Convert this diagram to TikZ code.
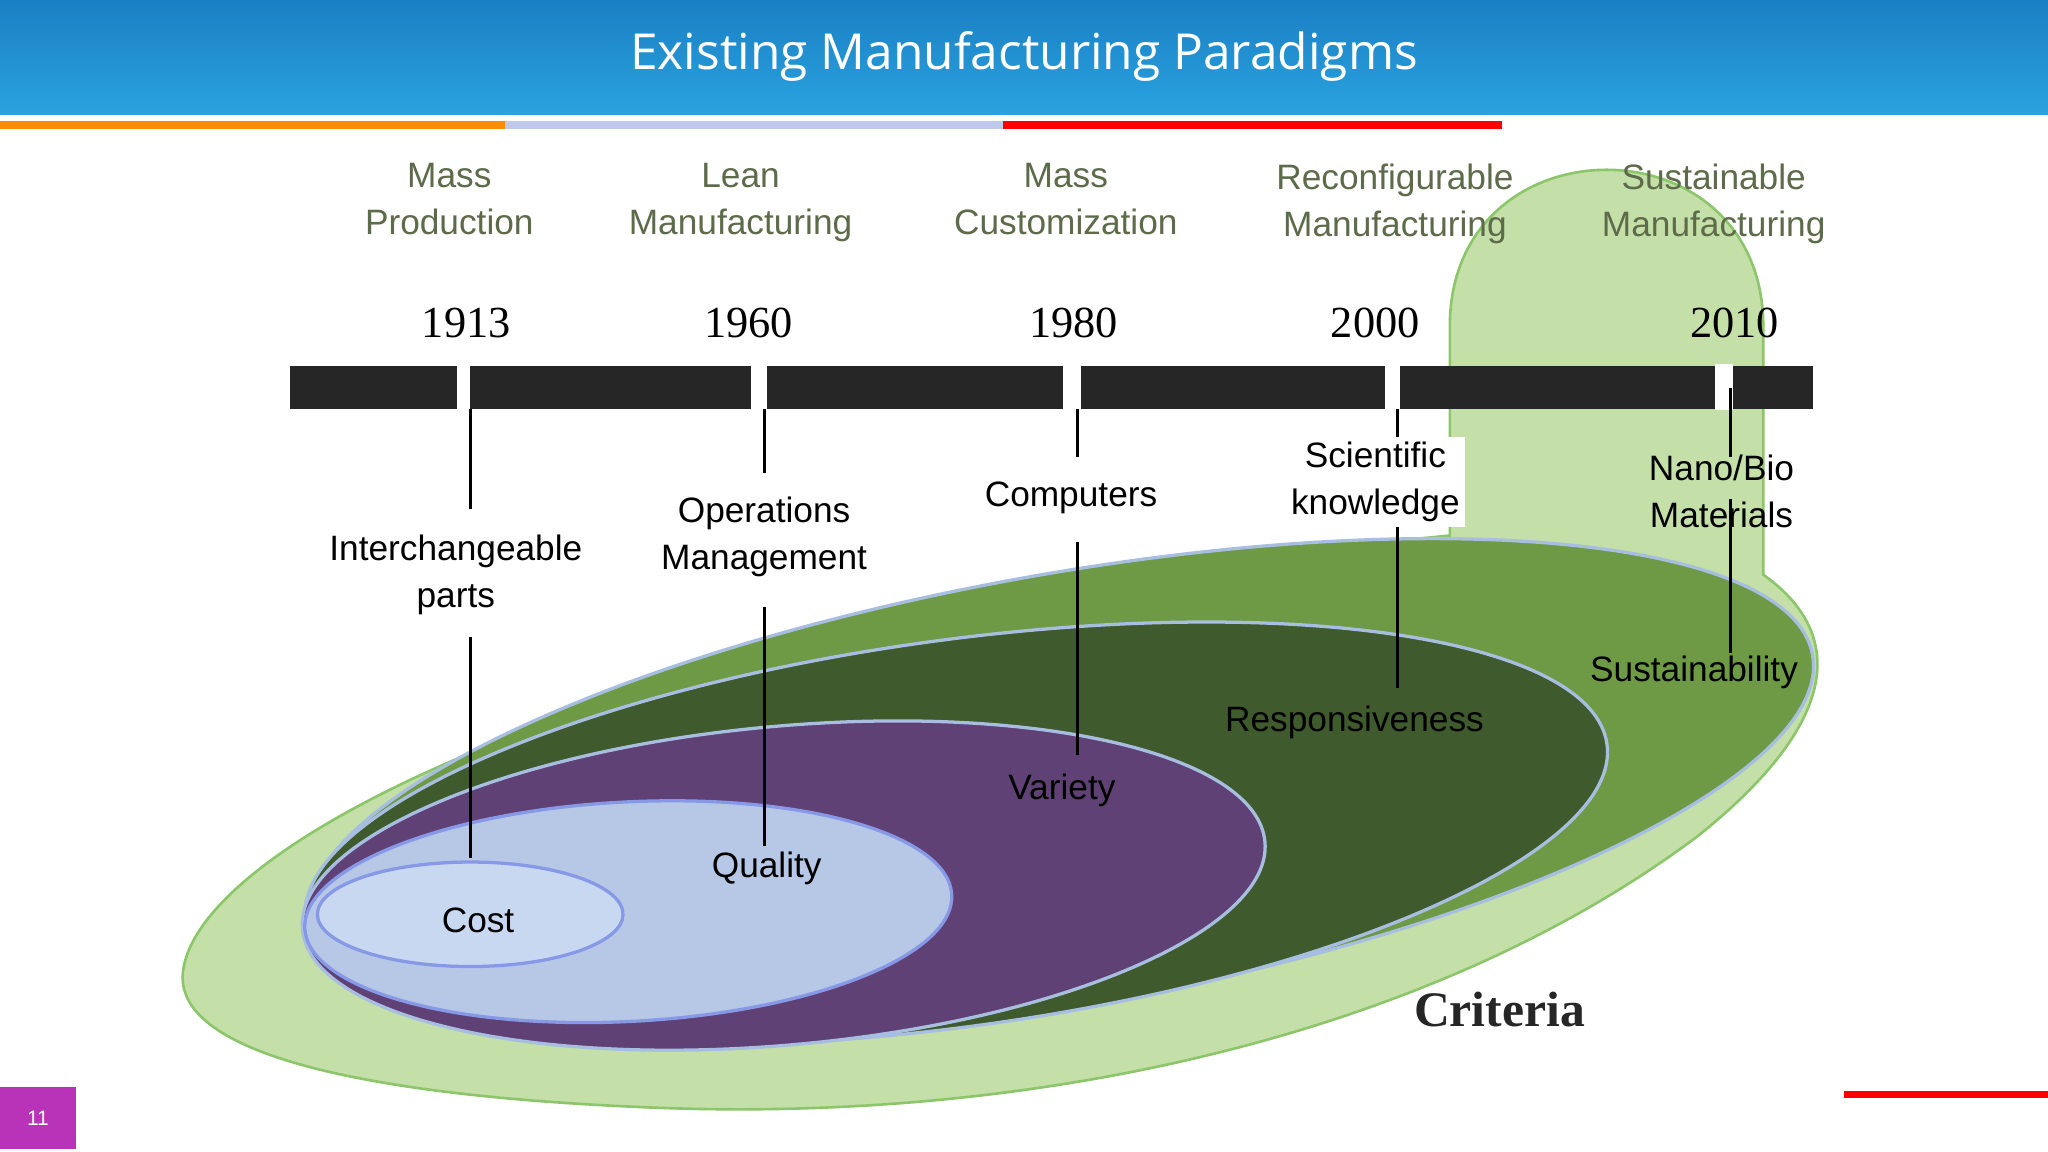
\documentclass[tikz,border=0pt]{standalone}
\usepackage{fontspec}
\setmainfont{Liberation Sans}
\newfontfamily\tfont{Open Sans}
\newfontfamily\sfont{Liberation Serif}
\definecolor{parc}{HTML}{5D6B4A}
\definecolor{blobc}{HTML}{C4E0A8}
\definecolor{blobd}{HTML}{8CC66A}
\definecolor{g1}{HTML}{6E9A45}
\definecolor{g2}{HTML}{3F5A2C}
\definecolor{pu}{HTML}{5F4175}
\definecolor{lb}{HTML}{B6C8E6}
\definecolor{cs}{HTML}{C8D8F0}
\definecolor{eb}{HTML}{A8BEE0}
\definecolor{tb1}{HTML}{1A7FC4}
\definecolor{tb2}{HTML}{2AA3DF}
\begin{document}
\begin{tikzpicture}[x=1pt,y=-1pt,
  lab/.style={font=\fontsize{27}{36}\selectfont,align=center,inner sep=1pt},
  par/.style={lab,text=parc,anchor=north},
  yr/.style={font=\sfont\fontsize{34}{36}\selectfont},
  vl/.style={line width=2.2pt,black},
  gap/.style={fill=white,draw=none}]
\useasboundingbox (0,0) rectangle (1568,882);
\fill[white] (0,0) rectangle (1568,882);
\shade[top color=tb1, bottom color=tb2] (0,0) rectangle (1568,88);
\node[font=\tfont\fontsize{38}{40}\selectfont,text=white] (title) at (784,43) {Existing Manufacturing Paradigms};
\fill[orange!90!yellow] (0,93) rectangle (387,99);
\fill[cyan!40!blue!25] (387,93) rectangle (768,99);
\fill[red] (768,93) rectangle (1150,99);
% blob
\filldraw[fill=blobc, draw=blobd, line width=2pt]
 (140,745) .. controls (150,640) and (500,470) .. (1110,410) -- (1110,250) .. controls (1110,90) and (1350,90) .. (1350,250) -- (1350,440) .. controls (1420,490) and (1400,560) .. (1300,640) .. controls (1100,790) and (800,860) .. (500,848) .. controls (250,838) and (135,800) .. cycle;
\tikzset{ell/.style={draw=eb, line width=2.5pt}}
\filldraw[ell,fill=g1,rotate around={10.2:(812,605)}] (812,605) ellipse [x radius=585, y radius=165];
\filldraw[ell,fill=g2,rotate around={7.8:(732,638)}] (732,638) ellipse [x radius=503, y radius=148];
\filldraw[ell,fill=pu,rotate around={5.2:(600,678)}] (600,678) ellipse [x radius=370, y radius=122];
\filldraw[ell,fill=lb,draw=eb!80!blue,rotate around={3:(481,698)}] (481,698) ellipse [x radius=248, y radius=84];
\filldraw[fill=cs,draw=eb!80!blue,line width=2.5pt] (360,700) ellipse [x radius=117, y radius=40];
% timeline
\fill[black!85] (222,280) rectangle (1388,313);
\foreach \a/\b in {350/360,575/587,814/828,1060/1072,1313/1327} \fill[gap] (\a,279) rectangle (\b,314);
\node[par] (p1) at (344,124) {Mass\\Production};
\node[par] (p2) at (567,124) {Lean\\Manufacturing};
\node[par] (p3) at (816,124) {Mass\\Customization};
\node[par] (p4) at (1068,124) {Reconfigurable\\Manufacturing};
\node[par] (p5) at (1312,124) {Sustainable\\Manufacturing};
\node[yr] (y1) at (357,247) {1913};
\node[yr] (y2) at (573,247) {1960};
\node[yr] (y3) at (822,247) {1980};
\node[yr] (y4) at (1053,247) {2000};
\node[yr] (y5) at (1328,247) {2010};
% labels
\node[lab] (d1) at (349,440) {Interchangeable\\parts};
\node[lab] (d2) at (585,411) {Operations\\Management};
\node[lab] (d3) at (820,381) {Computers};
\node[lab,fill=white,inner sep=4pt] (d4) at (1053,369) {Scientific\\knowledge};
\node[lab] (d5) at (1318,376) {Nano/Bio\\Materials};
\node[lab] (c1) at (366,705) {Cost};
\node[lab] (c2) at (587,665) {Quality};
\node[lab] (c3) at (813,605) {Variety};
\node[lab] (c4) at (1037,553) {Responsiveness};
\node[lab] (c5) at (1297,515) {Sustainability};
\node[font=\sfont\bfseries\fontsize{38}{40}\selectfont,text=black!85] (cr) at (1148,773) {Criteria};
\coordinate (t1) at (360,313); \coordinate (t2) at (585,313); \coordinate (t3) at (825,313);
\coordinate (t4) at (1070,313); \coordinate (t5) at (1325,297);
\draw[vl] (t1) -- (360,390); \draw[vl] (360,488) -- (360,657);
\draw[vl] (t2) -- (585,362); \draw[vl] (585,465) -- (585,648);
\draw[vl] (t3) -- (825,350); \draw[vl] (825,415) -- (825,578);
\draw[vl] (t4) -- (d4.north -| t4); \draw[vl] (d4.south -| t4) -- (1070,527);
\draw[vl] (t5) -- (1325,350); \draw[vl] (1325,382) -- (1325,500);
% footer
\fill[violet!70!magenta!80] (0,832) rectangle (58,880);
\node[text=white,font=\fontsize{16}{18}\selectfont] (pg) at (29,856) {11};
\fill[red] (1412,835) rectangle (1568,841);
\end{tikzpicture}
\end{document}
